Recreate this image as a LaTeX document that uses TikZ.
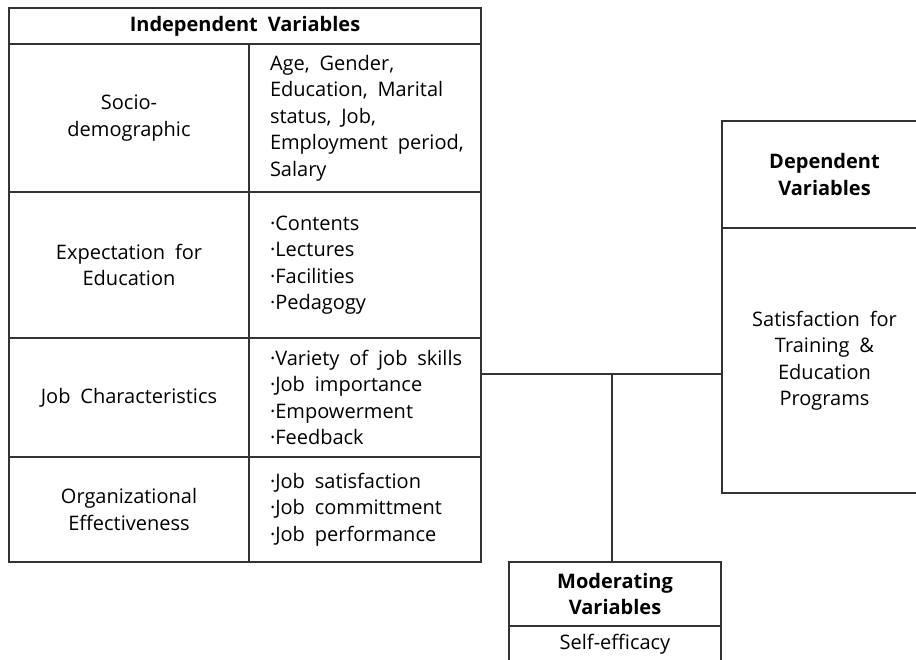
\documentclass[tikz,border=0pt]{standalone}
\usepackage{fontspec}
\setmainfont{Open Sans}[WordSpace=1.9]
\usetikzlibrary{positioning}

\begin{document}
\begin{tikzpicture}[
  x=0.5pt, y=-0.5pt,
  cell/.style={draw=black!80, line width=0.6pt, inner sep=0pt, outer sep=0pt,
    anchor=north west, align=center, font=\fontsize{10}{13.25}\selectfont},
  head/.style={cell, font=\fontsize{10}{13.25}\selectfont\bfseries},
  item/.style={cell, align=flush left, inner xsep=10.5pt, text width=95pt},
  left cell/.style={cell, minimum width=120pt}
  ]

  \clip (0,0) rectangle (916,659);

  % independent variables
  \node[head, minimum width=236pt, minimum height=18pt] (iv_head) at (9,8) {Independent Variables};
  \node[left cell, minimum height=74pt]   (sd) at (iv_head.south west) {Socio-\\demographic};
  \node[item, minimum height=74pt] (sd_items) at (sd.north east)
    {Age, Gender,\\\mbox{Education, Marital}\\status, Job,\\\mbox{Employment period,}\\Salary};
  \node[left cell, minimum height=73pt]   (ee) at (sd.south west) {Expectation for\\Education};
  \node[item, minimum height=73pt] (ee_items) at (ee.north east)
    {·Contents\\·Lectures\\·Facilities\\·Pedagogy};
  \node[left cell, minimum height=59.5pt] (jc) at (ee.south west) {Job Characteristics};
  \node[item, minimum height=59.5pt] (jc_items) at (jc.north east)
    {\mbox{·Variety of job skills}\\·Job importance\\·Empowerment\\·Feedback};
  \node[left cell, minimum height=52.5pt] (oe) at (jc.south west) {Organizational\\Effectiveness};
  \node[item, minimum height=52.5pt] (oe_items) at (oe.north east)
    {·Job satisfaction\\\mbox{·Job committment}\\\mbox{·Job performance}};

  % dependent variables
  \node[head, minimum width=102.5pt, minimum height=53.5pt] (dv_head) at (722,121) {Dependent\\Variables};
  \node[cell, minimum width=102.5pt, minimum height=132.5pt] (dv) at (dv_head.south west)
    {Satisfaction for\\Training \&\\Education\\Programs};

  % moderating variables
  \node[head, minimum width=106pt, minimum height=32pt] (mv_head) at (509,562) {Moderating\\Variables};
  \node[cell, minimum width=106pt, minimum height=18pt] (mv) at (mv_head.south west) {Self-efficacy};

  % links
  \coordinate (j) at (612,374);
  \draw[black!80, line width=0.6pt] (jc_items.east |- j) -- (dv.west |- j);
  \draw[black!80, line width=0.6pt] (j) -- (j |- mv_head.north);
\end{tikzpicture}
\end{document}
